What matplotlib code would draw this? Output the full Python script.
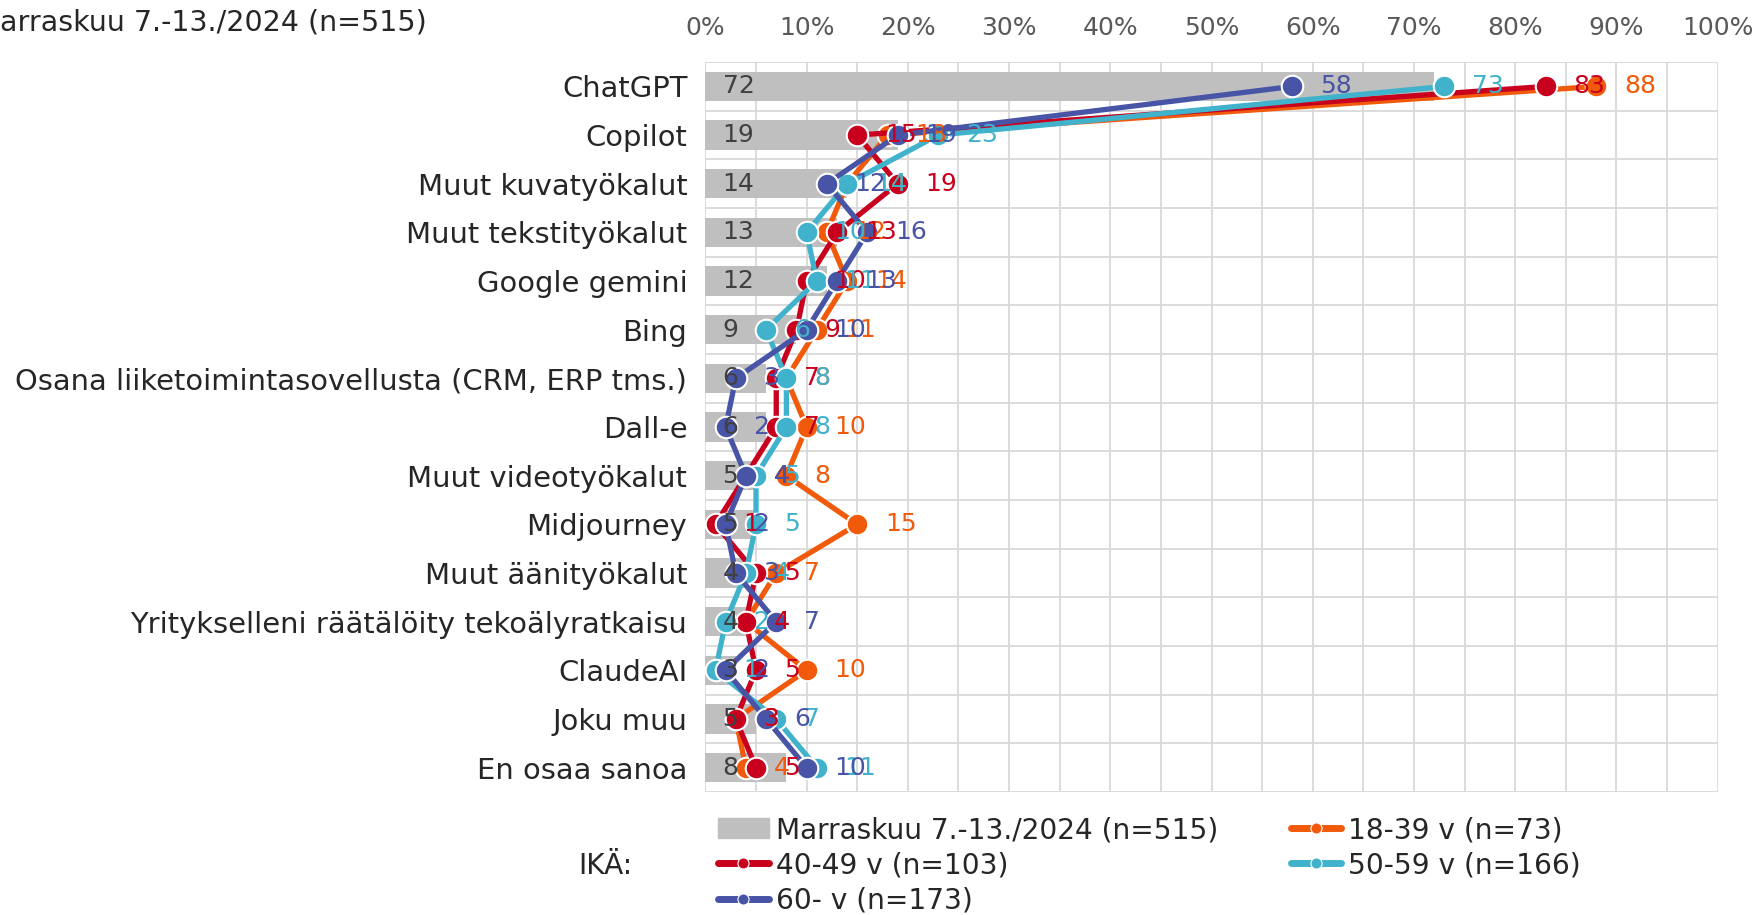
import matplotlib
matplotlib.use("Agg")
import matplotlib.pyplot as plt
from matplotlib.lines import Line2D
from matplotlib.patches import Patch
import numpy as np

plt.rcParams['font.family'] = ['DejaVu Sans']

# Data (percent)
categories = ["ChatGPT", "Copilot", "Muut kuvatyökalut", "Muut tekstityökalut",
              "Google gemini", "Bing", "Osana liiketoimintasovellusta (CRM, ERP tms.)",
              "Dall-e", "Muut videotyökalut", "Midjourney", "Muut äänityökalut",
              "Yritykselleni räätälöity tekoälyratkaisu", "ClaudeAI", "Joku muu",
              "En osaa sanoa"]
total = [72, 19, 14, 13, 12, 9, 6, 6, 5, 5, 4, 4, 3, 5, 8]
age_18_39 = [88, 18, 14, 12, 14, 11, 8, 10, 8, 15, 7, 4, 10, 3, 4]
age_40_49 = [83, 15, 19, 13, 10, 9, 7, 7, 4, 1, 5, 4, 5, 3, 5]
age_50_59 = [73, 23, 14, 10, 11, 6, 8, 8, 5, 5, 4, 2, 1, 7, 11]
age_60_plus = [58, 19, 12, 16, 13, 10, 3, 2, 4, 2, 3, 7, 2, 6, 10]

total_label = "Marraskuu 7.-13./2024 (n=515)"
series_labels = ["18-39 v (n=73)", "40-49 v (n=103)", "50-59 v (n=166)", "60- v (n=173)"]
series_colors = ["#F05A0A", "#C8001E", "#40B2CC", "#4854A6"]
x_ticks = [0, 10, 20, 30, 40, 50, 60, 70, 80, 90, 100]

W, H = 1760, 915
fig = plt.figure(figsize=(W / 100, H / 100), dpi=100)
ax = fig.add_axes([705.4 / W, 1 - 792 / H, 1012.2 / W, (792 - 62.1) / H])

y = np.arange(len(categories))

# grid
for gx in np.arange(0, 101, 5):
    ax.axvline(gx, color="#D9D9D9", lw=1.3, zorder=0)
for gy in np.arange(-0.5, len(categories), 1):
    ax.axhline(gy, color="#D9D9D9", lw=1.3, zorder=0)

ax.barh(y, total, height=0.6, color="#BFBFBF", zorder=1)
for yi, v in zip(y, total):
    ax.text(1.7, yi, str(v), ha="left", va="center", fontsize=18,
            color="#404040", zorder=12)

series = [age_18_39, age_40_49, age_50_59, age_60_plus]
for k, (vals, col) in enumerate(zip(series, series_colors)):
    ax.plot(vals, y, color=col, lw=3.8, marker="o", ms=15.5,
            mec="white", mew=1.5, zorder=3 + k, solid_capstyle="round")

for vals, col in zip(series, series_colors):
    for yi, v in zip(y, vals):
        ax.annotate(str(v), (v, yi), xytext=(20, 0), textcoords="offset points",
                    ha="left", va="center", fontsize=18, color=col, zorder=12,
                    annotation_clip=False)

ax.set_xlim(0, 100)
ax.set_ylim(len(categories) - 0.5, -0.5)
ax.xaxis.tick_top()
ax.set_xticks(x_ticks)
ax.set_xticklabels([f"{t}%" for t in x_ticks], fontsize=18, color="#595959")
ax.set_yticks(y)
ax.set_yticklabels(categories, fontsize=20.9, color="#262626")
ax.tick_params(axis="both", length=0)
ax.tick_params(axis="x", pad=16)
ax.tick_params(axis="y", pad=13)
for s in ax.spines.values():
    s.set_visible(False)

fig.text(0, 1 - 22 / H, "arraskuu 7.-13./2024 (n=515)", fontsize=20.5,
         color="#262626", ha="left", va="center")

# legend
def age_handle(col):
    return Line2D([], [], color=col, lw=5, marker="o", ms=8, mec="white", mew=0.8,
                  solid_capstyle="round")

handles = [Patch(color="#BFBFBF"), age_handle(series_colors[1]), age_handle(series_colors[3]),
           age_handle(series_colors[0]), age_handle(series_colors[2])]
labels = [total_label, series_labels[1], series_labels[3], series_labels[0], series_labels[2]]
fig.legend(handles, labels, ncol=2, loc="upper left", bbox_to_anchor=(718 / W, 1 - 816 / H),
           frameon=False, fontsize=20.2, handlelength=1.8, handletextpad=0.25,
           columnspacing=2.6, labelspacing=0.26, borderpad=0, borderaxespad=0,
           labelcolor="#262626")
fig.text(578 / W, 1 - 866 / H, "IKÄ:", fontsize=20.2, color="#262626", ha="left", va="center")

fig.savefig("out.png", dpi=100)
